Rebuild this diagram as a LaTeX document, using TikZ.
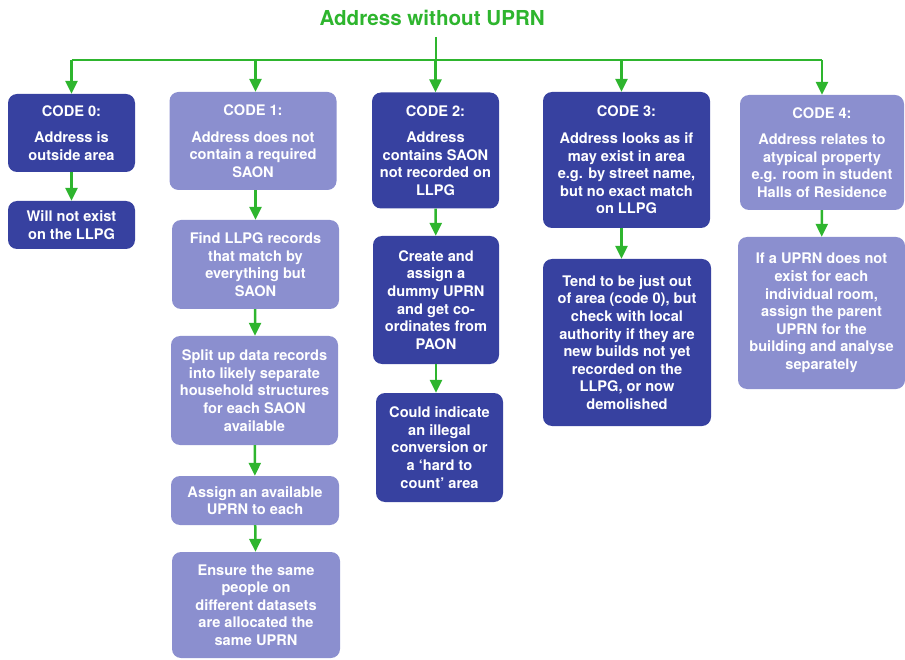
\documentclass[tikz,border=0pt]{standalone}
\usepackage{fontspec}
\setmainfont{TeX Gyre Heros}
\usepackage{tikz}
\usetikzlibrary{positioning, arrows.meta}
\definecolor{codedark}{RGB}{55,65,160}
\definecolor{codelight}{RGB}{139,143,207}
\definecolor{flowgreen}{RGB}{46,181,46}

\begin{document}
\begin{tikzpicture}[x = 1pt, y = -1pt,
    every node/.style = { align = center, text = white, font = \bfseries\fontsize{14.6}{17.6}\selectfont },
    darkbox/.style = { fill = codedark, rounded corners = 9pt, inner sep = 0pt },
    lightbox/.style = { fill = codelight, rounded corners = 9pt, inner sep = 0pt },
    bar/.style = { flowgreen, line width = 2.5pt },
    flow/.style = { bar, -{Triangle[length = 13pt, width = 12pt]} }]
      \useasboundingbox (0,0) rectangle (905,660);
      \node (title) at (435,18) [text = flowgreen, font = \bfseries\fontsize{20.6}{24}\selectfont] { Address without UPRN };
      \coordinate (trunk) at (436,37);
      \coordinate (bar) at (436,60);

      \node (c0) at (71.5,133) [darkbox, minimum width = 127, minimum height = 78] { CODE 0:\\[9pt] Address is \\ outside area };
      \node (c0a) at (71.5,225) [darkbox, minimum width = 127, minimum height = 48] { Will not exist \\ on the LLPG };

      \node (c1) at (253,141) [lightbox, minimum width = 167, minimum height = 98] { CODE 1:\\[9pt] Address does not \\ contain a required \\ SAON };
      \node (f1) at (255.5,264.5) [lightbox, minimum width = 167, minimum height = 89] { Find LLPG records \\ that match by \\ everything but \\ SAON };
      \node (s1) at (254.5,390.5) [lightbox, minimum width = 167, minimum height = 109] { Split up data records \\ into likely separate \\ household structures \\ for each SAON \\ available };
      \node (a1) at (255,500.5) [lightbox, minimum width = 168, minimum height = 49] { Assign an available \\ UPRN to each };
      \node (e1) at (256,605) [lightbox, minimum width = 168, minimum height = 106] { Ensure the same \\ people on \\ different datasets \\ are allocated the \\ same UPRN };

      \node (c2) at (435.5,150.5) [darkbox, minimum width = 127, minimum height = 116] { CODE 2:\\[9pt] Address \\ contains SAON \\ not recorded on \\ LLPG };
      \node (r2) at (436,300) [darkbox, minimum width = 126, minimum height = 128] { Create and \\ assign a \\ dummy UPRN \\ and get co- \\ ordinates from \\ PAON };
      \node (i2) at (439.5,447.5) [darkbox, minimum width = 127, minimum height = 109] { Could indicate \\ an illegal \\ conversion or \\ a ‘hard to \\ count’ area };

      \node (c3) at (626.5,160) [darkbox, minimum width = 167, minimum height = 136] { CODE 3:\\[9pt] Address looks as if \\ may exist in area \\ e.g. by street name, \\ but no exact match \\ on LLPG };
      \node (t3) at (627,342.5) [darkbox, minimum width = 168, minimum height = 167] { Tend to be just out \\ of area (code 0), but \\ check with local \\ authority if they are \\ new builds not yet \\ recorded on the \\ LLPG, or now \\ demolished };

      \node (c4) at (822,152.5) [lightbox, minimum width = 164, minimum height = 115] { CODE 4:\\[9pt] Address relates to \\ atypical property \\ e.g. room in student \\ Halls of Residence };
      \node (u4) at (821.5,313) [lightbox, minimum width = 167, minimum height = 152] { If a UPRN does not \\ exist for each \\ individual room, \\ assign the parent \\ UPRN for the \\ building and analyse \\ separately };

      \draw [bar] (trunk) -- (bar);
      \draw [bar] (c0.north |- bar) -- (c4.north |- bar);
      \foreach \code in {c0, c2, c4}
        \draw [flow] (\code.north |- bar) -- (\code.north);
      \draw [flow] (f1.north |- bar) -- (f1.north |- c1.north);
      \draw [flow] ([xshift = -5pt]c3.north |- bar) -- ([xshift = -5pt]c3.north);

      \draw [flow] (c0) -- (c0a);
      \draw [flow] (f1.north |- c1.south) -- (f1);
      \draw [flow] (f1) -- (s1);
      \draw [flow] (s1) -- (a1);
      \draw [flow] (a1) -- (e1);
      \draw [flow] (c2) -- (r2);
      \draw [flow] (r2) -- (i2.north -| r2);
      \draw [flow] ([xshift = -5pt]c3.south) -- ([xshift = -5pt]c3.south |- t3.north);
      \draw [flow] (c4) -- (u4);
    \end{tikzpicture}
\end{document}
